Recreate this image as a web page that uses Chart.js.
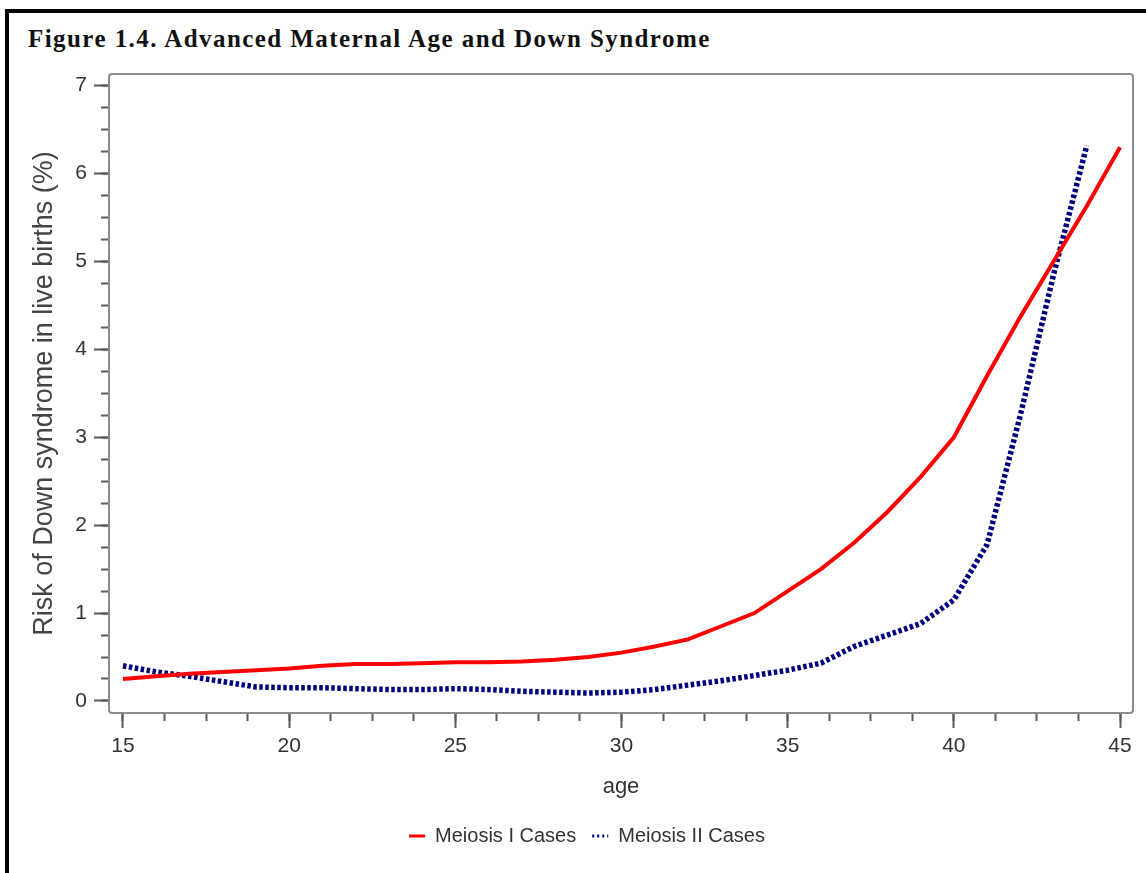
<!DOCTYPE html>
<html>
<head>
<meta charset="utf-8">
<script src="https://cdn.jsdelivr.net/npm/chart.js@4.4.0/dist/chart.umd.min.js"></script>
<style>
  html, body { margin: 0; padding: 0; background: #fff; overflow: hidden; }
  #frame { position: absolute; left: 5px; top: 9px; width: 1300px; height: 1000px; border-left: 4px solid #000; border-top: 4px solid #000; }
  #title { position: absolute; left: 28px; top: 25px; line-height: 25px; font: bold 25px "Liberation Serif", "Times New Roman", serif; white-space: nowrap; color: #111; }
  #wrap { position: absolute; left: 0; top: 0; width: 1146px; height: 873px; }
</style>
</head>
<body>
<div id="frame"></div>
<div id="title">Figure 1.4. Advanced Maternal Age and Down Syndrome</div>
<div id="wrap"><canvas id="myChart"></canvas></div>
<script>
// data
const ages = [15, 16, 17, 18, 19, 20, 21, 22, 23, 24, 25, 26, 27, 28, 29, 30,
  31, 32, 33, 34, 35, 36, 37, 38, 39, 40, 41, 42, 43, 44, 45];
const meiosisI = [0.25, 0.28, 0.31, 0.33, 0.35, 0.37, 0.40, 0.42, 0.42, 0.43, 0.44, 0.44, 0.45, 0.47, 0.50, 0.55,
  0.62, 0.70, 0.85, 1.00, 1.25, 1.50, 1.80, 2.15, 2.55, 3.00, 3.70, 4.37, 5.00, 5.63, 6.30];
const agesII = [15, 16, 17, 18, 19, 20, 21, 22, 23, 24, 25, 26, 27, 28, 29, 30,
  31, 32, 33, 34, 35, 36, 37, 38, 39, 40, 41, 42, 43, 44];
const meiosisII = [0.40, 0.33, 0.28, 0.22, 0.16, 0.15, 0.15, 0.14, 0.13, 0.13, 0.14, 0.13, 0.11, 0.10, 0.09, 0.10,
  0.13, 0.18, 0.23, 0.29, 0.35, 0.43, 0.62, 0.75, 0.88, 1.15, 1.78, 3.25, 4.85, 6.32];
const xTicks = [15, 20, 25, 30, 35, 40, 45];
const xMinorTicks = [15, 16.25, 17.5, 18.75, 20, 21.25, 22.5, 23.75, 25, 26.25, 27.5, 28.75, 30,
  31.25, 32.5, 33.75, 35, 36.25, 37.5, 38.75, 40, 41.25, 42.5, 43.75, 45];
const yTicks = [0, 1, 2, 3, 4, 5, 6, 7];
const yMinorTicks = [];
for (let v = 0; v <= 7; v += 0.25) yMinorTicks.push(v);

// stretch the title to the width it has in the figure
const titleEl = document.getElementById("title");
const mctx = document.createElement("canvas").getContext("2d");
mctx.font = 'bold 25px "Liberation Serif"';
const tw = mctx.measureText(titleEl.textContent).width;
titleEl.style.letterSpacing = ((684 - tw) / (titleEl.textContent.length - 1)) + "px";

Chart.defaults.font.family = '"Liberation Sans", Arial, sans-serif';

const TICK_COLOR = "#5a5a5a";
const TEXT_COLOR = "#333";

// gray frame round the plot area
const plotBox = {
  id: "plotBox",
  afterDraw(chart) {
    const { ctx, chartArea: a } = chart;
    ctx.save();
    ctx.strokeStyle = "#8c8c8c";
    ctx.lineWidth = 2;
    ctx.beginPath();
    ctx.roundRect(a.left, a.top, a.right - a.left, a.bottom - a.top, 3);
    ctx.stroke();
    ctx.restore();
  }
};

const chartData = {
  datasets: [
    {
      label: "Meiosis I Cases",
      data: ages.map((a, i) => ({ x: a, y: meiosisI[i] })),
      borderColor: "#ff0000",
      backgroundColor: "#ff0000",
      borderWidth: 4,
      pointRadius: 0,
      pointStyle: "line",
      tension: 0
    },
    {
      label: "Meiosis II Cases",
      data: agesII.map((a, i) => ({ x: a, y: meiosisII[i] })),
      borderColor: "#00007f",
      backgroundColor: "#00007f",
      borderWidth: 5.5,
      borderDash: [3.5, 2.5],
      pointRadius: 0,
      pointStyle: "line",
      tension: 0
    }
  ]
};

const config = {
  type: "line",
  data: chartData,
  plugins: [plotBox],
  options: {
    responsive: true,
    maintainAspectRatio: false,
    animation: false,
    layout: { padding: { left: 41, right: 13, top: 74, bottom: 17 } },
    scales: {
      x: {
        type: "linear",
        position: "bottom",
        weight: 1,
        min: 14.58,
        max: 45.39,
        afterBuildTicks: (s) => { s.ticks = xTicks.map((v) => ({ value: v })); },
        afterFit: (s) => { s.height = 97; },
        border: { display: false },
        grid: { drawOnChartArea: false, tickLength: 15, tickWidth: 2, tickColor: TICK_COLOR },
        ticks: { font: { size: 21 }, color: TEXT_COLOR, padding: 6, maxRotation: 0, autoSkip: false },
        title: { display: true, text: "age", font: { size: 22 }, color: TEXT_COLOR, padding: { top: 0, bottom: 10 } }
      },
      x2: {
        type: "linear",
        position: "bottom",
        weight: 0,
        min: 14.58,
        max: 45.39,
        afterBuildTicks: (s) => { s.ticks = xMinorTicks.map((v) => ({ value: v })); },
        afterFit: (s) => { s.height = 0; },
        border: { display: false },
        grid: { drawOnChartArea: false, tickLength: 8, tickWidth: 2, tickColor: TICK_COLOR },
        ticks: { display: false }
      },
      y: {
        position: "left",
        weight: 1,
        min: -0.137,
        max: 7.133,
        afterBuildTicks: (s) => { s.ticks = yTicks.map((v) => ({ value: v })); },
        afterFit: (s) => { s.width = 68; },
        border: { display: false },
        grid: { drawOnChartArea: false, tickLength: 15, tickWidth: 2, tickColor: TICK_COLOR },
        ticks: { font: { size: 21 }, color: TEXT_COLOR, padding: 7 },
        title: {
          display: true,
          text: "Risk of Down syndrome in live births (%)",
          font: { size: 27, lineHeight: 0.25 },
          color: "#444",
          padding: 0
        }
      },
      y2: {
        position: "left",
        weight: 0,
        min: -0.137,
        max: 7.133,
        afterBuildTicks: (s) => { s.ticks = yMinorTicks.map((v) => ({ value: v })); },
        afterFit: (s) => { s.width = 0; },
        border: { display: false },
        grid: { drawOnChartArea: false, tickLength: 8, tickWidth: 2, tickColor: TICK_COLOR },
        ticks: { display: false }
      }
    },
    plugins: {
      legend: {
        display: true,
        position: "bottom",
        labels: {
          font: { size: 20 },
          color: TEXT_COLOR,
          boxWidth: 16,
          padding: 16,
          usePointStyle: true,
          pointStyleWidth: 16,
          generateLabels: (chart) => {
            const items = Chart.defaults.plugins.legend.labels.generateLabels(chart);
            items.forEach((it, i) => {
              it.lineWidth = 3;
              if (i === 1) it.lineDash = [2, 3];
            });
            return items;
          }
        }
      },
      title: { display: false },
      tooltip: { enabled: false }
    }
  }
};

new Chart(document.getElementById("myChart"), config);
</script>
</body>
</html>
